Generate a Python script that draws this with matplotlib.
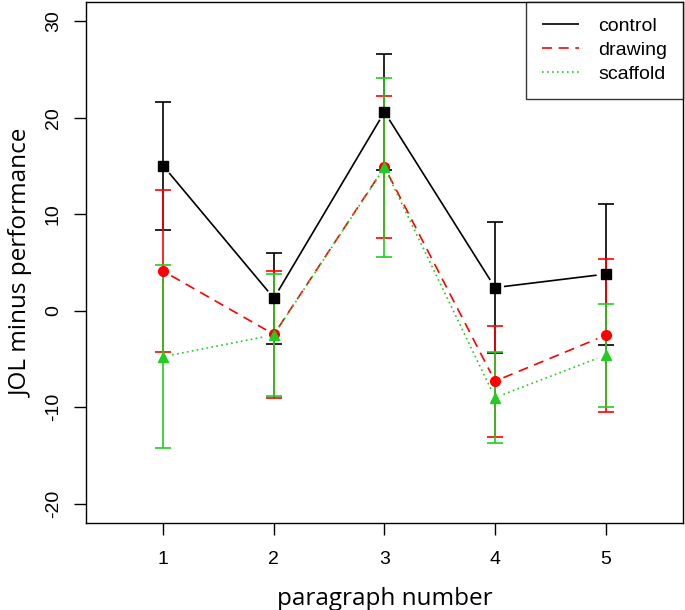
import matplotlib
matplotlib.use('Agg')
import matplotlib.pyplot as plt
from matplotlib.lines import Line2D
import numpy as np

# --- data ---
paragraphs = [1, 2, 3, 4, 5]
control_mean = [15.0, 1.3, 20.6, 2.4, 3.8]
control_err = [6.6, 4.7, 6.0, 6.8, 7.3]
drawing_mean = [4.1, -2.45, 14.9, -7.3, -2.55]
drawing_err = [8.4, 6.55, 7.4, 5.75, 7.95]
scaffold_mean = [-4.75, -2.5, 14.85, -9.0, -4.6]
scaffold_err = [9.45, 6.35, 9.25, 4.7, 5.35]

plt.rcParams['font.family'] = ['Liberation Sans', 'DejaVu Sans']
plt.rcParams['axes.unicode_minus'] = False

fig = plt.figure(figsize=(6.85, 6.10), dpi=100)
ax = fig.add_axes([0.1255, 0.1426, 0.8715, 0.8541])
ax.set_xlim(0.3, 5.7)
ax.set_ylim(-22, 32)

series = [
    ('control', control_mean, control_err, 'black', (0, ()), 's', 6.5),
    ('drawing', drawing_mean, drawing_err, '#FF0000', (0, (6, 4)), 'o', 7),
    ('scaffold', scaffold_mean, scaffold_err, '#22CC22', (0, (1, 2)), '^', 7.5),
]

GAP = 9  # px gap between line and point, like R type="b"
handles = []
for name, mean, err, col, ls, mk, ms in series:
    ax.errorbar(paragraphs, mean, yerr=err, fmt='none', ecolor=col,
                elinewidth=1.2, capsize=5.5, capthick=1.2, zorder=2)
    pts = ax.transData.transform(np.column_stack([paragraphs, mean]))
    for p0, p1 in zip(pts[:-1], pts[1:]):
        d = p1 - p0
        u = d / np.hypot(*d)
        seg = ax.transData.inverted().transform([p0 + u * GAP, p1 - u * GAP])
        ax.plot(seg[:, 0], seg[:, 1], color=col, linestyle=ls, linewidth=1.2,
                zorder=3)
    ax.plot(paragraphs, mean, color=col, linestyle='none', marker=mk,
            markersize=ms, zorder=4)
    handles.append(Line2D([], [], color=col, linestyle=ls, linewidth=1.2,
                          label=name))

ax.set_xticks(paragraphs)
ax.set_yticks([-20, -10, 0, 10, 20, 30])
ax.tick_params(labelsize=14, length=8.3, width=1)
ax.tick_params(axis='x', pad=12)
ax.tick_params(axis='y', pad=9)
for lab in ax.get_yticklabels():
    lab.set_rotation(90)
    lab.set_va('center')
ax.set_xlabel('paragraph number', fontsize=17.5, family=['Open Sans', 'DejaVu Sans'],
              va='center')
ax.set_ylabel('JOL minus performance', fontsize=17.5, family=['Open Sans', 'DejaVu Sans'],
              va='center')
ax.xaxis.set_label_coords(0.5, -0.146)
ax.yaxis.set_label_coords(-0.107, 0.5)

for sp in ax.spines.values():
    sp.set_linewidth(1)

leg = ax.legend(handles=handles, loc='upper right', fontsize=14, frameon=True,
                fancybox=False, edgecolor='black', borderpad=0.8,
                handlelength=1.9, handletextpad=1.0, borderaxespad=0,
                labelspacing=0.33)
leg.get_frame().set_linewidth(1)

plt.savefig('out.png', dpi=100)
